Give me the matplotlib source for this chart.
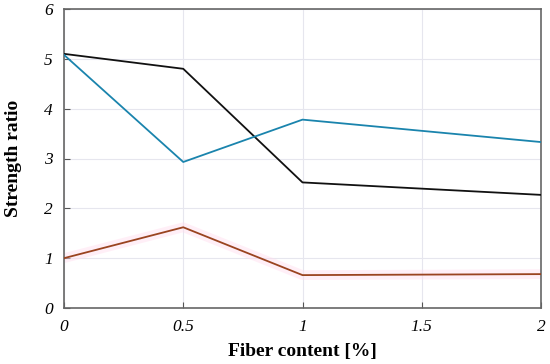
import matplotlib
matplotlib.use("Agg")
import matplotlib.pyplot as plt

fiber = [0, 0.5, 1, 2]
black_vals = [5.1, 4.8, 2.52, 2.27]
blue_vals = [5.08, 2.93, 3.78, 3.33]
red_vals = [1.0, 1.62, 0.66, 0.68]
xticks = [0, 0.5, 1, 1.5, 2]
xticklabels = ["0", "0.5", "1", "1.5", "2"]
yticks = [0, 1, 2, 3, 4, 5, 6]

plt.rcParams['font.family'] = ['Liberation Serif', 'DejaVu Serif']

fig = plt.figure(figsize=(5.5, 3.64), dpi=100)
ax = fig.add_axes([64/550, 1-308/364, (541-64)/550, (308-9)/364])

ax.plot(fiber, red_vals, color="#ffdcee", lw=7, alpha=0.45, solid_capstyle='butt', zorder=2)
ax.plot(fiber, black_vals, color="#111111", lw=1.3, zorder=3)
ax.plot(fiber, blue_vals, color="#1a84ad", lw=1.3, zorder=3)
ax.plot(fiber, red_vals, color="#9a4420", lw=1.3, zorder=3)

ax.set_xlim(0, 2)
ax.set_ylim(0, 6)
ax.set_xticks(xticks)
ax.set_xticklabels(xticklabels, fontstyle='italic', fontsize=12.5)
ax.set_yticks(yticks)
ax.set_yticklabels([str(v) for v in yticks], fontstyle='italic', fontsize=12.5)
ax.tick_params(direction='in', length=4, color="#555555", pad=8)
ax.grid(True, color="#e6e6ee", lw=0.8)
ax.set_axisbelow(True)
for s in ax.spines.values():
    s.set_color("#666666")
    s.set_linewidth(1.2)

ax.set_xlabel("Fiber content [%]", fontsize=14, fontweight='bold', labelpad=6)
ax.set_ylabel("Strength ratio", fontsize=14, fontweight='bold', labelpad=16)

fig.savefig("out.png", dpi=100)
